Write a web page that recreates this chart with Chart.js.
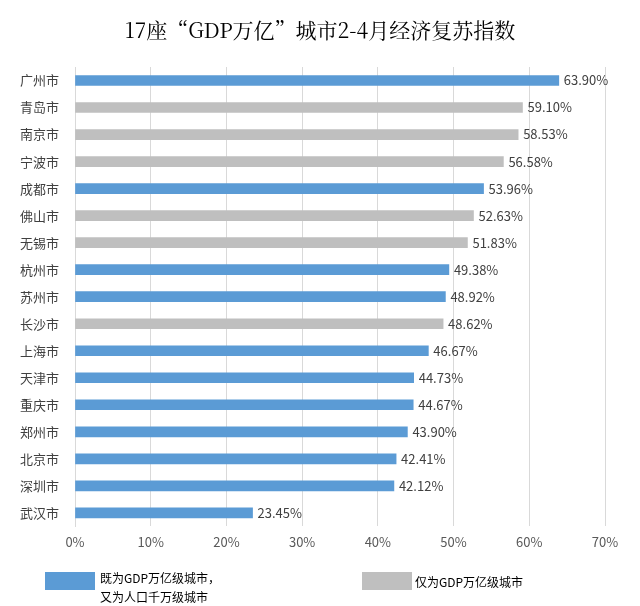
<!DOCTYPE html>
<html><head><meta charset="utf-8">
<script src="https://cdn.jsdelivr.net/npm/chart.js@4/dist/chart.umd.min.js"></script>
<style>body{margin:0;background:#fff}#w{width:640px;height:606px;position:relative}</style>
</head><body><div id="w"><canvas id="c"></canvas></div>
<script>
const cities=["广州市","青岛市","南京市","宁波市","成都市","佛山市","无锡市","杭州市","苏州市","长沙市","上海市","天津市","重庆市","郑州市","北京市","深圳市","武汉市"];
const values=[63.90,59.10,58.53,56.58,53.96,52.63,51.83,49.38,48.92,48.62,46.67,44.73,44.67,43.90,42.41,42.12,23.45];
const isMega=[1,0,0,0,1,0,0,1,1,0,1,1,1,1,1,1,1];
const xTicks=[0,10,20,30,40,50,60,70];
const BLUE="#5b9bd5",GRAY="#bfbfbf";
const F="'Noto Sans CJK SC','Noto Sans',sans-serif";
const deco={id:'deco',afterDatasetsDraw(ch){
 const ctx=ch.ctx,meta=ch.getDatasetMeta(0);
 ctx.save();ctx.fillStyle="#404040";ctx.font="13px "+F;ctx.textBaseline="middle";
 meta.data.forEach((b,i)=>ctx.fillText(values[i].toFixed(2)+"%",b.x+5,b.y));
 ctx.font="21px 'Noto Serif CJK SC','DejaVu Serif',serif";ctx.fillStyle="#000";ctx.textAlign="center";
 ctx.fillText("17座“GDP万亿”城市2-4月经济复苏指数",320,30);
 ctx.textAlign="left";ctx.font="12px "+F;
 ctx.fillStyle=BLUE;ctx.fillRect(45,572,50,18);
 ctx.fillStyle="#000";ctx.fillText("既为GDP万亿级城市，",100,578);ctx.fillText("又为人口千万级城市",100,597);
 ctx.fillStyle=GRAY;ctx.fillRect(362,572,50,18);
 ctx.fillStyle="#000";ctx.fillText("仅为GDP万亿级城市",415,582);
 ctx.restore();}};
new Chart(document.getElementById('c'),{type:'bar',
 data:{labels:cities,datasets:[{data:values,backgroundColor:isMega.map(m=>m?BLUE:GRAY),barThickness:10}]},
 plugins:[deco],
 options:{indexAxis:'y',responsive:true,maintainAspectRatio:false,animation:false,
  layout:{padding:{top:67,bottom:48,left:5,right:35}},
  plugins:{legend:{display:false},tooltip:{enabled:false}},
  scales:{
   x:{min:0,max:70,afterBuildTicks(s){s.ticks=xTicks.map(v=>({value:v}));},
      ticks:{callback:v=>v+"%",color:"#595959",font:{size:13,family:F},padding:8},
      grid:{color:"#d9d9d9",drawTicks:false},border:{display:false}},
   y:{ticks:{color:"#404040",font:{size:13,family:F},padding:8},grid:{display:false},
      border:{color:"#d9d9d9"},afterFit(s){s.width=70;}}
  }}});
</script></body></html>
